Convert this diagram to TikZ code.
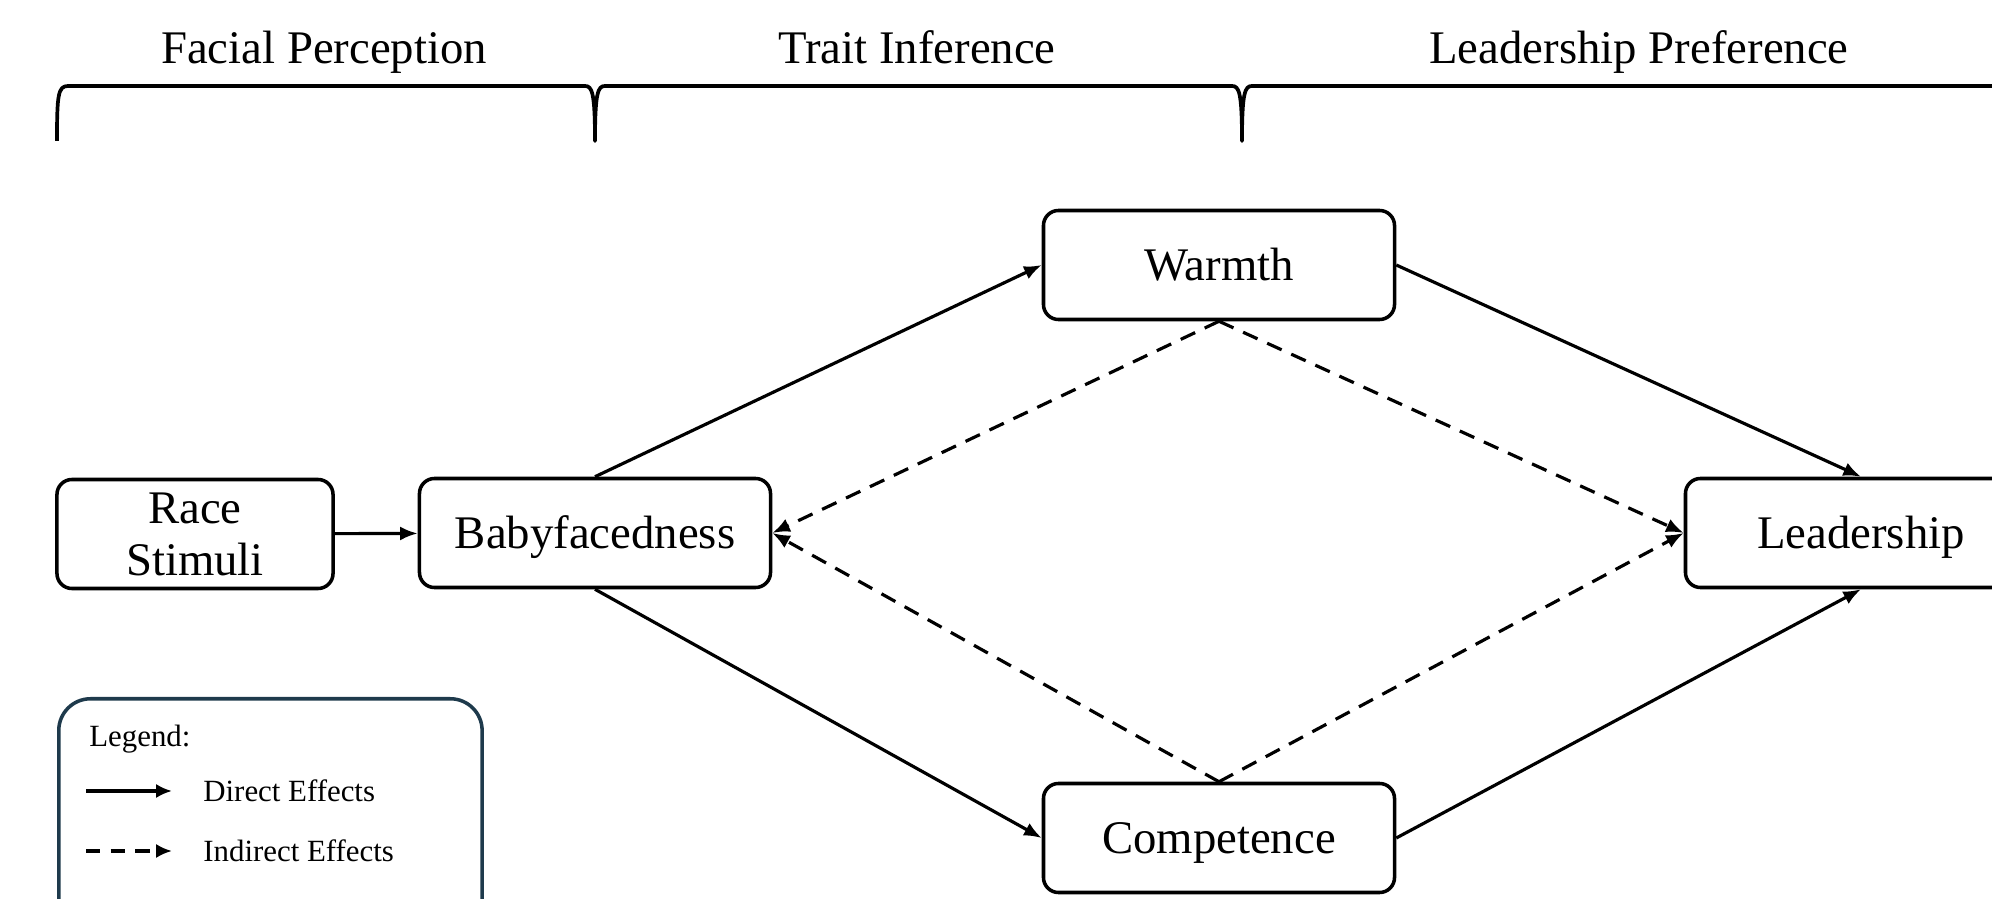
\documentclass[tikz,border=0pt]{standalone}
\usepackage{fontspec}
\setmainfont{Liberation Serif}
\usetikzlibrary{arrows.meta}
\definecolor{legendline}{HTML}{1E3A4C}
\tikzset{
  box/.style={draw, line width=2pt, rounded corners=8.5pt, minimum height=61.8pt, align=center, inner sep=0pt,
    font=\fontsize{26.5}{29.5}\selectfont},
  onebox/.style={box, text height=17.5pt, text depth=0pt},
  header/.style={font=\fontsize{26.5}{29.5}\selectfont, inner sep=0pt, anchor=base},
  bracket/.style={line width=2.1pt, line join=round},
  direct/.style={line width=1.8pt, -{Latex[length=10pt,width=8pt]}},
  indirect/.style={line width=1.8pt, dash pattern=on 9pt off 6pt, -{Latex[length=10pt,width=8pt]}},
  legtext/.style={font=\fontsize{17.5}{20}\selectfont, inner sep=0pt, anchor=west},
  legdirect/.style={line width=2pt, -{Latex[length=9pt,width=8pt]}},
  legindirect/.style={line width=2pt, dash pattern=on 8pt off 6pt, -{Latex[length=9pt,width=8pt]}},
}
\begin{document}
\begin{tikzpicture}[x=0.5669pt, y=-0.5669pt]
\useasboundingbox (0,0) rectangle (1992,899);
\clip (0,0) rectangle (1992,899);

% headers
\node[header] (h1) at (324,64) {Facial Perception};
\node[header] (h2) at (917,64) {Trait Inference};
\node[header] (h3) at (1639,64) {Leadership Preference};

% bracket
\draw[bracket] (57,141) .. controls (57,95) and (58,86) .. (68,86) -- (585,86)
  .. controls (592,86) and (595,92) .. (595,141)
  .. controls (595,92) and (598,86) .. (605,86) -- (1232,86)
  .. controls (1239,86) and (1242,92) .. (1242,141)
  .. controls (1242,92) and (1245,86) .. (1252,86) -- (2010,86);

% nodes
\node[box, minimum width=156.5pt] (race) at (195,534) {Race\\Stimuli};
\node[onebox, minimum width=199pt] (baby) at (595,533) {Babyfacedness};
\node[onebox, minimum width=199pt] (warmth) at (1219,265) {Warmth};
\node[onebox, minimum width=199pt] (comp) at (1219,838) {Competence};
\node[onebox, minimum width=199pt] (lead) at (1861,533) {Leadership};

% direct effects
\draw[direct] (race) -- (baby);
\draw[direct] (baby.north) -- (warmth.west);
\draw[direct] (baby.south) -- (comp.west);
\draw[direct] (warmth.east) -- (lead.north);
\draw[direct] (comp.east) -- (lead.south);

% indirect effects
\draw[indirect] (warmth.south) -- (baby.east);
\draw[indirect] (comp.north) -- (baby.east);
\draw[indirect] (warmth.south) -- (lead.west);
\draw[indirect] (comp.north) -- (lead.west);

% legend
\node[draw=legendline, line width=2pt, rounded corners=18pt, minimum width=240pt, minimum height=140pt, anchor=north west, inner sep=0pt] (legend) at (57,697) {};
\node[legtext] (legtitle) at (89,739) {Legend:};
\coordinate (d1) at (86,791);
\coordinate (d2) at (172,791);
\coordinate (i1) at (86,851);
\coordinate (i2) at (172,851);
\draw[legdirect] (d1) -- (d2);
\draw[legindirect] (i1) -- (i2);
\node[legtext] (ldirect) at (203,791) {Direct Effects};
\node[legtext] (lindirect) at (203,851) {Indirect Effects};
\end{tikzpicture}
\end{document}
